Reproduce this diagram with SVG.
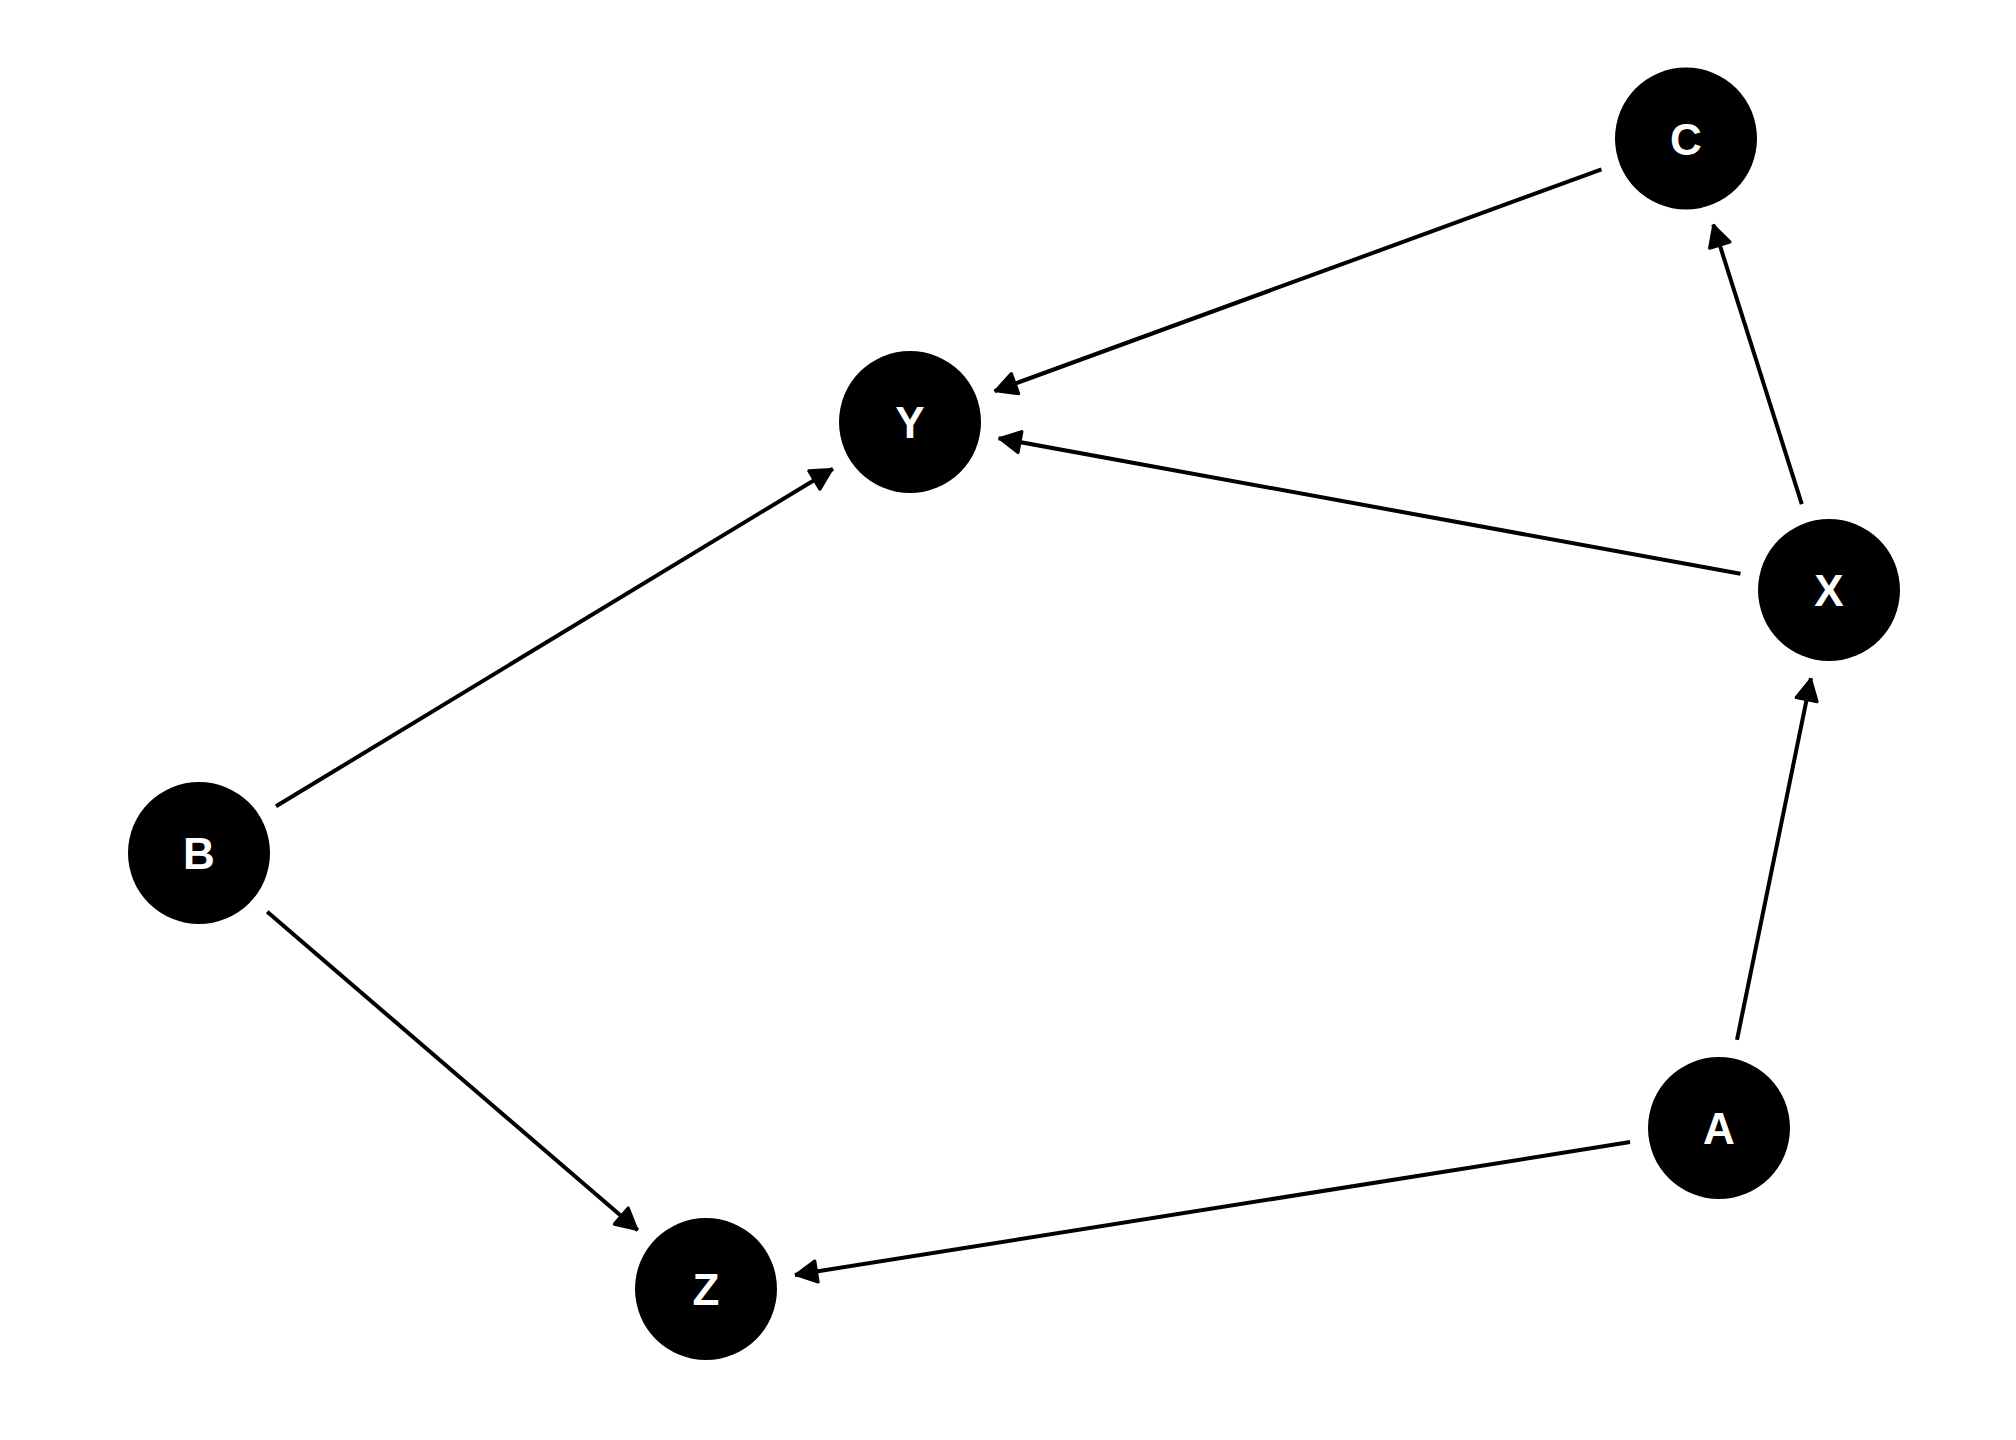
<svg xmlns="http://www.w3.org/2000/svg" width="2016" height="1440" viewBox="0 0 2016 1440">
<style>
.node circle{fill:#000}
.node text{fill:#fff;font-family:"Liberation Sans",Arial,sans-serif;font-weight:bold;font-size:44px;text-anchor:middle}
.edge{stroke:#000;stroke-width:4;fill:none;marker-end:url(#arrow)}
</style>
<defs>
<marker id="arrow" markerUnits="userSpaceOnUse" markerWidth="34" markerHeight="34" viewBox="-26 -16 32 32" refX="1.5" refY="0" orient="auto">
<path d="M0,0 L-19,-10 L-19,10 Z" fill="#000" stroke="#000" stroke-width="3" stroke-linejoin="round"/>
</marker>
</defs>
<rect width="2016" height="1440" fill="#fff"/>
<g id="connectors">
<line class="edge" x1="1601.5" y1="169.4" x2="994.5" y2="391.1"/>
<line class="edge" x1="1740.5" y1="573.8" x2="998.5" y2="438.2"/>
<line class="edge" x1="1801.8" y1="504.2" x2="1713.2" y2="224.3"/>
<line class="edge" x1="1737" y1="1039.8" x2="1811" y2="678.2"/>
<line class="edge" x1="276" y1="806.3" x2="833" y2="468.7"/>
<line class="edge" x1="267.2" y1="911.7" x2="637.8" y2="1230.3"/>
<line class="edge" x1="1630.1" y1="1142.1" x2="794.9" y2="1274.9"/>
</g>
<g id="node-C" class="node"><circle cx="1686" cy="138.5" r="71"/><text x="1686" y="154.5">C</text></g>
<g id="node-Y" class="node"><circle cx="910" cy="422" r="71"/><text x="910" y="438">Y</text></g>
<g id="node-X" class="node"><circle cx="1829" cy="590" r="71"/><text x="1829" y="606">X</text></g>
<g id="node-B" class="node"><circle cx="199" cy="853" r="71"/><text x="199" y="869">B</text></g>
<g id="node-A" class="node"><circle cx="1719" cy="1128" r="71"/><text x="1719" y="1144">A</text></g>
<g id="node-Z" class="node"><circle cx="706" cy="1289" r="71"/><text x="706" y="1305">Z</text></g>
</svg>
